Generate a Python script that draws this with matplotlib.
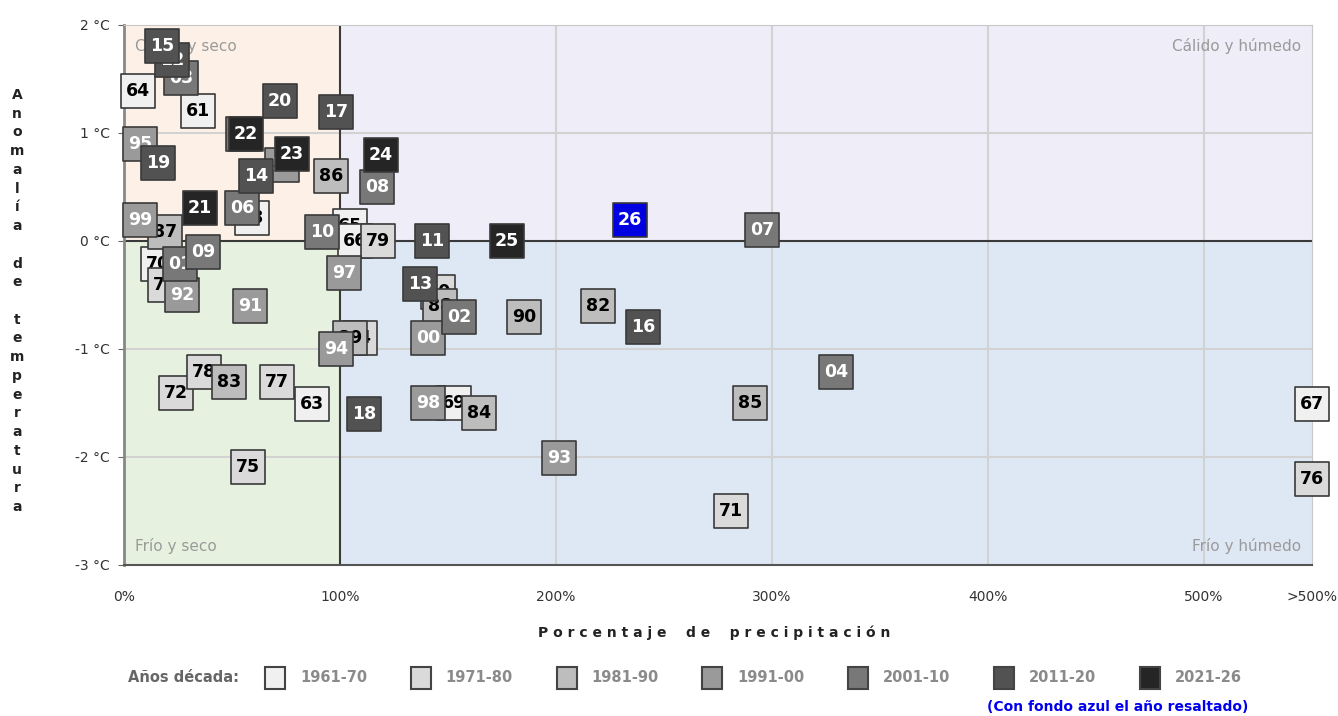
import matplotlib
matplotlib.use("Agg")
import matplotlib.pyplot as plt
from matplotlib.patches import Rectangle

# ---------------- data ----------------
years = [1961, 1963, 1964, 1965, 1966, 1967, 1968, 1969, 1970,
         1971, 1972, 1973, 1974, 1975, 1976, 1977, 1978, 1979, 1980,
         1982, 1983, 1984, 1985, 1986, 1987, 1988, 1989, 1990,
         1991, 1992, 1993, 1994, 1995, 1996, 1997, 1998, 1999, 2000,
         2001, 2002, 2003, 2004, 2005, 2006, 2007, 2008, 2009, 2010,
         2011, 2012, 2013, 2014, 2015, 2016, 2017, 2018, 2019, 2020,
         2021, 2022, 2023, 2024, 2025, 2026]
precip = [34.3, 87.0, 6.5, 104.6, 106.9, 550, 59.3, 152.8, 15.7,
          281.0, 24.1, 19.0, 109.3, 57.4, 550, 70.8, 37.0, 117.6, 145.4,
          219.4, 48.6, 164.4, 289.8, 95.8, 19.0, 146.3, 104.6, 185.2,
          58.3, 26.9, 201.4, 98.1, 7.4, 73.1, 101.9, 140.7, 7.4, 140.7,
          25.9, 155.1, 26.4, 329.6, 55.1, 54.6, 295.4, 117.1, 36.6, 91.7,
          142.6, 22.2, 137.0, 61.1, 17.6, 240.3, 98.1, 111.1, 15.7, 72.2,
          35.2, 56.5, 77.8, 119.0, 177.3, 234.3]
temp = [1.20, -1.51, 1.39, 0.14, 0.00, -1.51, 0.21, -1.50, -0.21,
        -2.50, -1.41, -0.41, -0.90, -2.09, -2.20, -1.31, -1.21, 0.00, -0.47,
        -0.60, -1.31, -1.59, -1.50, 0.60, 0.08, -0.60, -0.90, -0.70,
        -0.60, -0.50, -2.01, -1.00, 0.90, 0.70, -0.30, -1.50, 0.19, -0.90,
        -0.21, -0.70, 1.51, -1.21, 0.99, 0.31, 0.10, 0.50, -0.10, 0.08,
        0.00, 1.68, -0.40, 0.60, 1.81, -0.80, 1.19, -1.60, 0.72, 1.30,
        0.31, 0.99, 0.81, 0.80, 0.00, 0.19]
highlight_year = 2026

decade_labels = ["1961-70", "1971-80", "1981-90", "1991-00", "2001-10", "2011-20", "2021-26"]
decade_colors = ["#f0f0f0", "#dadada", "#bdbdbd", "#9a9a9a", "#787878", "#525252", "#252525"]
decade_text = ["black", "black", "black", "white", "white", "white", "white"]

x_ticks = [0, 100, 200, 300, 400, 500, 550]
x_ticklabels = ["0%", "100%", "200%", "300%", "400%", "500%", ">500%"]
y_ticks = [2, 1, 0, -1, -2, -3]
y_ticklabels = ["2 °C", "1 °C", "0 °C", "-1 °C", "-2 °C", "-3 °C"]

# ---------------- figure ----------------
W, H = 1338, 716
fig = plt.figure(figsize=(W / 100, H / 100), dpi=100)
L, R, T, B = 124, 1312, 25, 565
ax = fig.add_axes([L / W, 1 - B / H, (R - L) / W, (B - T) / H])
ax.set_xlim(0, 550)
ax.set_ylim(-3, 2)

# quadrants
ax.add_patch(Rectangle((0, 0), 100, 2, facecolor="#fdf1e7", edgecolor="none", zorder=0))
ax.add_patch(Rectangle((100, 0), 450, 2, facecolor="#efeef8", edgecolor="none", zorder=0))
ax.add_patch(Rectangle((0, -3), 100, 3, facecolor="#e6f2df", edgecolor="none", zorder=0))
ax.add_patch(Rectangle((100, -3), 450, 3, facecolor="#dee8f4", edgecolor="none", zorder=0))

for xv in [200, 300, 400, 500]:
    ax.axvline(xv, color="#d2d2d2", lw=1.5, zorder=0.5)
for yv in [1, -1, -2]:
    ax.axhline(yv, color="#d2d2d2", lw=1.5, zorder=0.5)
ax.axvline(100, color="#3a3a3a", lw=1.5, zorder=0.8)
ax.axhline(0, color="#3a3a3a", lw=1.5, zorder=0.8)

qfont = dict(color="#9a9a9a", fontsize=11, zorder=0.9)
ax.text(5, 1.81, "Cálido y seco", ha="left", va="center", **qfont)
ax.text(545, 1.81, "Cálido y húmedo", ha="right", va="center", **qfont)
ax.text(5, -2.82, "Frío y seco", ha="left", va="center", **qfont)
ax.text(545, -2.82, "Frío y húmedo", ha="right", va="center", **qfont)

for s in ["top", "right"]:
    ax.spines[s].set_color("#c8c8c8")
ax.spines["left"].set_color("#888888")
ax.spines["left"].set_linewidth(2)
ax.spines["bottom"].set_color("#555555")
ax.spines["bottom"].set_linewidth(1.5)

ax.set_xticks(x_ticks)
ax.set_xticklabels(x_ticklabels, fontsize=10, color="#333333")
ax.set_yticks(y_ticks)
ax.set_yticklabels(y_ticklabels, fontsize=10, color="#333333")
ax.tick_params(axis="x", length=0, pad=18)
ax.tick_params(axis="y", length=4, color="#666666", pad=6)

# boxes
for i, (yr, px, ty) in enumerate(zip(years, precip, temp)):
    d = min((yr - 1961) // 10, 6)
    fc = decade_colors[d]
    tc = decade_text[d]
    if yr == highlight_year:
        fc = "#0000e0"
        tc = "white"
    xv = min(px, 550)
    z = 3 + i * 0.01
    ax.scatter([xv], [ty], s=600, marker="s", facecolor=fc, edgecolor="#3a3a3a",
               linewidths=1.2, zorder=z, clip_on=False)
    ax.text(xv, ty, f"{yr % 100:02d}", ha="center", va="center", fontsize=12.5,
            fontweight="bold", color=tc, zorder=z + 0.005, clip_on=False)

# axis titles
fig.text(714 / W, 1 - 633 / H, " ".join("Porcentaje de precipitación").replace("   ", "    "),
         ha="center", va="center", fontsize=10, fontweight="bold", color="#222222")

ylab = list("Anomalía de temperatura")
y0, y1 = 95, 507
step = (y1 - y0) / (len(ylab) - 1)
for k, ch in enumerate(ylab):
    if ch != " ":
        fig.text(17 / W, 1 - (y0 + k * step) / H, ch, ha="center", va="center",
                 fontsize=10, fontweight="bold", color="#222222")

# legend
ly = 678
fig.text(128 / W, 1 - ly / H, "Años década:", ha="left", va="center",
         fontsize=10.5, fontweight="bold", color="#666666")
for k, (lab, col) in enumerate(zip(decade_labels, decade_colors)):
    x0 = 265 + k * 145.8
    fig.patches.append(Rectangle((x0 / W, 1 - 689 / H), 20 / W, 22 / H,
                                 transform=fig.transFigure, facecolor=col,
                                 edgecolor="#444444", linewidth=1.5))
    fig.text((x0 + 35) / W, 1 - ly / H, lab, ha="left", va="center",
             fontsize=10.5, fontweight="bold", color="#8a8a8a")
fig.text(1118 / W, 1 - 707 / H, "(Con fondo azul el año resaltado)", ha="center",
         va="center", fontsize=10, fontweight="bold", color="#0000ee")

fig.savefig("out.png", dpi=100)
